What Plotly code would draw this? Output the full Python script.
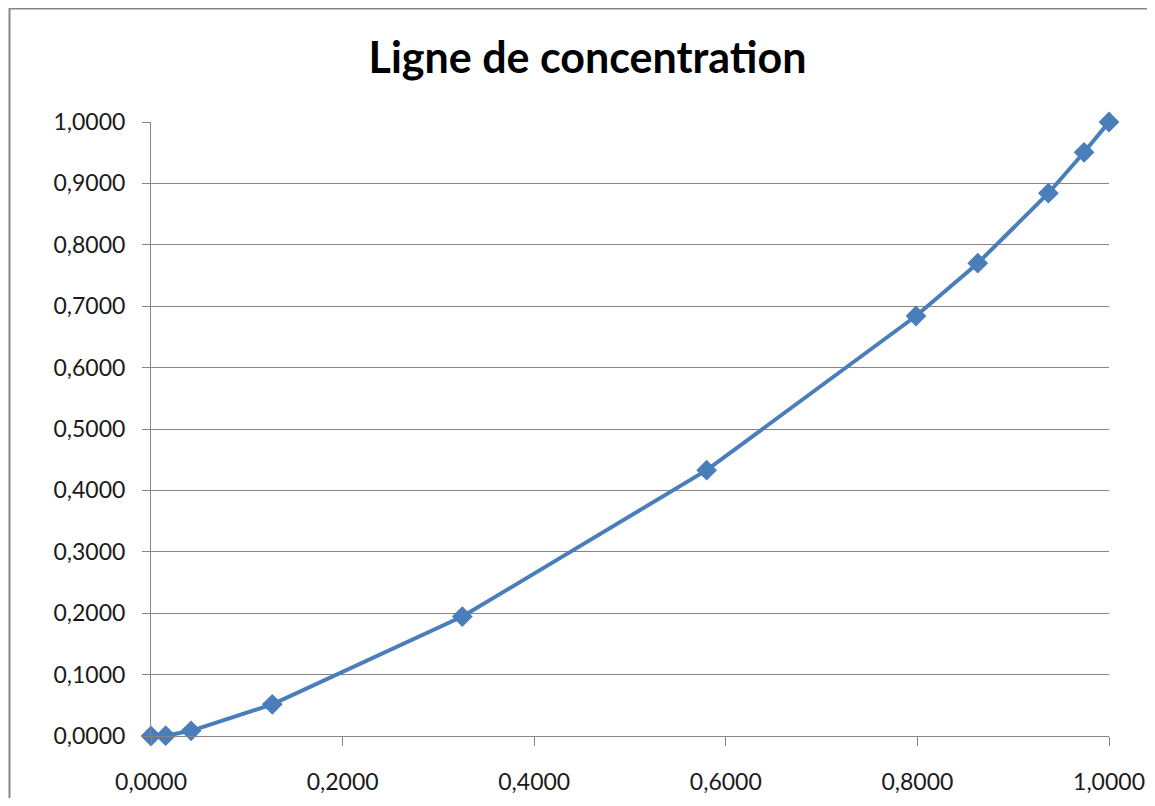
import plotly.graph_objects as go

x_vals = [0.0, 0.0153, 0.0418, 0.1266, 0.3250, 0.5800, 0.7985, 0.8630, 0.9367, 0.9740, 1.0]
y_vals = [0.0, 0.0005, 0.0085, 0.0516, 0.1945, 0.4330, 0.6840, 0.7700, 0.8840, 0.9506, 1.0]
x_ticks = [0, 0.2, 0.4, 0.6, 0.8, 1.0]
y_ticks = [0, 0.1, 0.2, 0.3, 0.4, 0.5, 0.6, 0.7, 0.8, 0.9, 1.0]
title_text = "Ligne de concentration"

fig = go.Figure()
fig.add_trace(go.Scatter(
    x=x_vals, y=y_vals, mode="lines+markers",
    line=dict(color="#4A7EBB", width=4),
    marker=dict(symbol="diamond", size=16, color="#4A7EBB"),
    cliponaxis=False, showlegend=False,
))

W, H = 1139, 790
L, R, T, B = 143, 38, 114, 62
pw, ph = W - L - R, H - T - B

def px(xf):
    return (xf - L) / pw

def py(yf):
    return (H - B - yf) / ph

fig.add_shape(type="path", xref="paper", yref="paper",
              path=f"M {px(1.5)} {py(H + 5)} L {px(1.5)} {py(0.5)} L {px(W + 5)} {py(0.5)}",
              line=dict(color="#868686", width=2))

fig.update_layout(
    width=W, height=H,
    margin=dict(l=L, r=R, t=T, b=B, autoexpand=False),
    paper_bgcolor="white", plot_bgcolor="white",
    separators=", ",
    title=dict(text=f"<b>{title_text}</b>", x=579.5 / W, xanchor="center", xref="container",
               y=1 - 50 / H, yanchor="middle",
               font=dict(family="Lato", size=43, color="black")),
    font=dict(family="Lato", size=23, color="#1A1A1A"),
)
fig.update_xaxes(range=[0, 1], tickvals=x_ticks, tickformat=".4f", automargin=False,
                 showgrid=False, showline=True, linecolor="#868686", linewidth=1,
                 ticks="outside", ticklen=9, tickcolor="#868686", zeroline=False,
                 ticklabelstandoff=16)
fig.update_yaxes(range=[0, 1], tickvals=y_ticks, tickformat=".4f", automargin=False,
                 showgrid=True, gridcolor="#868686", gridwidth=1,
                 showline=True, linecolor="#868686", linewidth=1,
                 ticks="outside", ticklen=8, tickcolor="#868686", zeroline=False,
                 ticklabelstandoff=12)

fig.write_html("out.html")
